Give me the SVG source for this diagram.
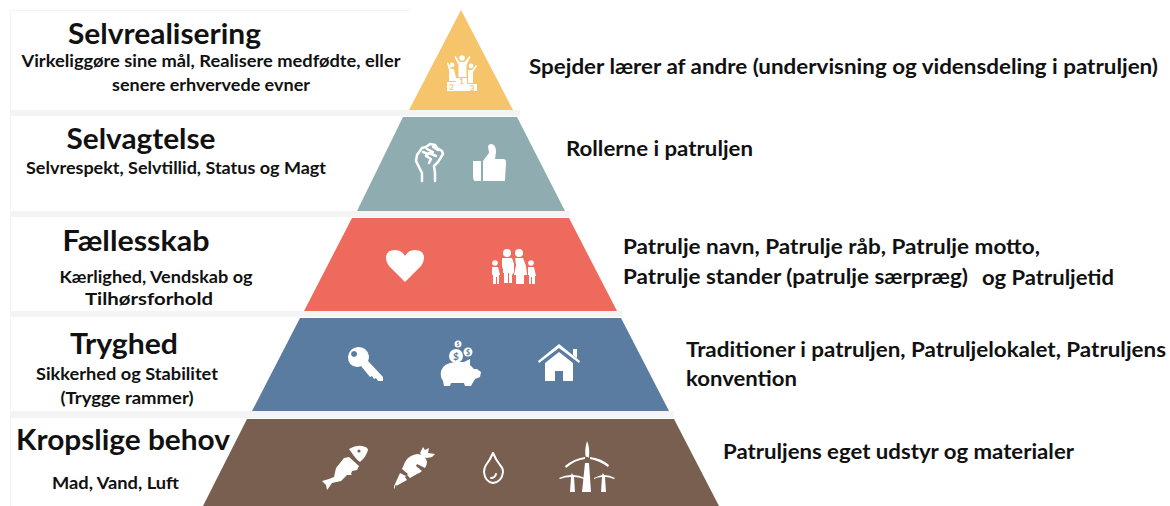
<svg xmlns="http://www.w3.org/2000/svg" width="1170" height="506" viewBox="0 0 1170 506">
<style>
text{font-family:"Lato","Liberation Sans",sans-serif;font-weight:700;fill:#111}
.h{font-size:29px;text-anchor:middle}
.s{font-size:17px;text-anchor:middle}
.r{font-size:20.500px}
.i{fill:#fff}
.l{fill:none;stroke:#fff;stroke-linecap:round;stroke-linejoin:round}
.strip{fill:#f4f4f4}
.num{font-size:8px;text-anchor:middle;fill:#f5c46b}
</style>
<rect width="1170" height="506" fill="#fff"/>
<g id="bands">
<rect class="strip" x="10" y="10" width="400" height="1"/>
<rect class="strip" x="10" y="110" width="510" height="6"/>
<rect class="strip" x="10" y="211" width="560" height="6"/>
<rect class="strip" x="10" y="311" width="612" height="6"/>
<rect class="strip" x="10" y="411" width="664" height="7"/>
<rect class="strip" x="10" y="10" width="1" height="496"/>
</g>
<g id="selvrealisering">
<polygon points="461,10 513,110 409,110" fill="#f5c46b"/>
<g class="i">
<rect x="456" y="78" width="11" height="13"/><rect x="447" y="82" width="9" height="9"/><rect x="467" y="84" width="10" height="7"/>
<circle cx="462" cy="58" r="2.800"/><path d="M459.500 62h5l5-6 1 1-4 8v12h-8V65l-4-8 1-1z"/>
<circle cx="452" cy="65" r="2.400"/><path d="M449 69h5l2 9v3h-7zM449 70l-2-7 1-1 3 7z"/>
<circle cx="471" cy="66" r="2.400"/><path d="M468 70h4l4-5 1 1-4 6v11h-5z"/>
</g>
<text class="num" x="461.500" y="84">1</text><text class="num" x="451.500" y="90">2</text><text class="num" x="472" y="91">3</text>
<text class="h" x="164.500" y="44" textLength="193" lengthAdjust="spacingAndGlyphs">Selvrealisering</text>
<text class="s" x="211" y="67" textLength="379" lengthAdjust="spacingAndGlyphs">Virkeliggøre sine mål, Realisere medfødte, eller</text>
<text class="s" x="211" y="91" textLength="198" lengthAdjust="spacingAndGlyphs">senere erhvervede evner</text>
<text class="r" x="529" y="74" textLength="629" lengthAdjust="spacingAndGlyphs">Spejder lærer af andre (undervisning og vidensdeling i patruljen)</text>
</g>
<g id="selvagtelse">
<polygon points="403,117 517,117 565,211 357,211" fill="#8fadb0"/>
<path class="l" stroke-width="2.500" d="M422 181v-8l-6-12 1-6 5-7 4-1 4-3 5 1 2 3 5 3 1 3-5 8-4 4 1 7v8M423 152l5 2M427 149l6 3M433 147l5 3M436 156l-7-3-3 3 5 3-2 4"/>
<path class="i" d="M473 161h8v20h-6q-2-1-2-4zM483 161l6-8-1-7q1-2 3-2 5 0 5 8l-1 7h8q3 0 3 3l-1 19h-22z"/>
<text class="h" x="141" y="149" textLength="149" lengthAdjust="spacingAndGlyphs">Selvagtelse</text>
<text class="s" x="176" y="174" textLength="300" lengthAdjust="spacingAndGlyphs">Selvrespekt, Selvtillid, Status og Magt</text>
<text class="r" x="566" y="156" textLength="187" lengthAdjust="spacingAndGlyphs">Rollerne i patruljen</text>
</g>
<g id="faellesskab">
<polygon points="352,218 569,218 617,311 304,311" fill="#ee6a5c"/>
<path class="i" d="M405 282l-16-16q-3-4-3-8 0-8 9-8 7 0 10 6 3-6 10-6 9 0 9 8 0 4-3 8z"/>
<g class="i">
<circle cx="507" cy="253" r="4"/><circle cx="519" cy="253" r="4"/><circle cx="495" cy="263" r="2.800"/><circle cx="531" cy="263" r="2.800"/>
<path d="M502 258h10l2 6v8l-1 2-1 1v8h-3v-10h-1v10h-4v-10l-1 0v-6l-1 2z"/>
<path d="M515 258h8l3 8 1 9h-3v9h-8v-9h-2l2-10z"/>
<path d="M492 267h6l2 8-1 0v9h-2v-7h-1v7h-3v-9h-1z"/>
<path d="M528 267h6l2 9-1 0v8h-3v-7h-1v7h-2v-9h-1z"/>
</g>
<text class="h" x="136" y="251" textLength="147" lengthAdjust="spacingAndGlyphs">Fællesskab</text>
<text class="s" x="156" y="283" textLength="193" lengthAdjust="spacingAndGlyphs">Kærlighed, Vendskab og</text>
<text class="s" x="149" y="305" textLength="128" lengthAdjust="spacingAndGlyphs">Tilhørsforhold</text>
<text class="r" x="623" y="254" textLength="417" lengthAdjust="spacingAndGlyphs">Patrulje navn, Patrulje råb, Patrulje motto,</text>
<text class="r" x="623" y="284" textLength="345" lengthAdjust="spacingAndGlyphs">Patrulje stander (patrulje særpræg)</text>
<text class="r" x="982" y="285" textLength="132" lengthAdjust="spacingAndGlyphs">og Patruljetid</text>
</g>
<g id="tryghed">
<polygon points="300,318 621,318 669,411 252,411" fill="#5a7ca1"/>
<path class="i" fill-rule="evenodd" d="M358 347q9 0 11 9 0 3-1 5l15 16v4h-5l-2-3-2 1-2-3-2 1-9-11q-2 1-4 1-9-1-9-10 1-9 10-10zM354 351a3 3 0 1 0 .1 0z"/>
<g class="i">
<path d="M441 371q2-8 15-9h8l6-3v6l4 4 3 0 4 3-1 5-5 2-3 5-1 2h-6l-1-3h-13l-1 3h-6l-1-5q-3-4-2-10z"/>
<circle cx="456" cy="356" r="7"/><circle cx="468" cy="352" r="4.500"/><circle cx="458" cy="344" r="3.500"/>
<path d="M559 344l21 17-1 2-20-15-20 15-1-2zM573 349h4v9l-4-3zM545 363l14-11 14 11v18h-10v-10h-8v10h-10z"/>
</g>
<text x="456" y="359.500" style="fill:#5a7ca1;font-size:10px;text-anchor:middle">$</text><text x="468" y="355" style="fill:#5a7ca1;font-size:7px;text-anchor:middle">$</text><text x="458" y="346" style="fill:#5a7ca1;font-size:5px;text-anchor:middle">$</text>
<text class="h" x="124" y="354" textLength="108" lengthAdjust="spacingAndGlyphs">Tryghed</text>
<text class="s" x="127" y="380" textLength="182" lengthAdjust="spacingAndGlyphs">Sikkerhed og Stabilitet</text>
<text class="s" x="127" y="404" textLength="133" lengthAdjust="spacingAndGlyphs">(Trygge rammer)</text>
<text class="r" x="686" y="357" textLength="480" lengthAdjust="spacingAndGlyphs">Traditioner i patruljen, Patruljelokalet, Patruljens</text>
<text class="r" x="686" y="386" textLength="111" lengthAdjust="spacingAndGlyphs">konvention</text>
</g>
<g id="kropslige-behov">
<polygon points="247,419 674,419 719,506 203,506" fill="#785f50"/>
<path class="i" d="M322 481l7-2 5-2 2-9 8-10 5-1 10 9-2 4-5 1-1 3 1 1-5 0-6 6-9 2-2 3-3 4-1-5-2-2z"/>
<path class="i" d="M349 449q7-4 13-3 6 1 6 4-2 7-8 12-3-2-6-6z"/>
<circle cx="359" cy="451" r="1.600" fill="#785f50"/>
<path class="i" d="M395 489q-2-2 0-5l5-11 6 3 2-2-6-5 3-7q4-7 12-8 8 0 10 8 0 3-2 6l-8-4-1 2 6 5q-2 2-5 3l-7 4-3-3-2 2 2 3-9 5q-2 1-3 0zM420 453l3-6 2 3 4-2-1 5 7 1-3 3-5 1-4-1z"/>
<path class="l" stroke-width="2" d="M493 453q-3 7-7 12-2 3-2 7 1 10 9 11 9-1 10-11 0-4-3-7-4-5-7-12zM491 478q4 0 5-4" />
<g class="i">
<path d="M587 441q3 6 2 16l-1 1h-2q-2-7 1-17zM585 459q-10 1-19 9l-1-2q8-7 20-9zM590 457q11 1 19 8l-1 2q-8-6-18-8zM585 463h4l2 29h-9z"/>
<circle cx="587" cy="458" r="1.200" fill="#785f50"/>
<path d="M559 478q6-3 12-3l1-2 1 2q6 0 12 3l-1 1q-6-2-10-2l1 15h-5l1-15q-6 0-11 2zM594 478q4-2 8-3l1-2 1 2q6 0 11 3l-1 1q-5-2-9-2l1 15h-5l1-15q-4 0-8 2z"/>
</g>
<text class="h" x="123" y="450" textLength="214" lengthAdjust="spacingAndGlyphs">Kropslige behov</text>
<text class="s" x="115.500" y="489" textLength="127" lengthAdjust="spacingAndGlyphs">Mad, Vand, Luft</text>
<text class="r" x="723" y="459" textLength="351" lengthAdjust="spacingAndGlyphs">Patruljens eget udstyr og materialer</text>
</g>
</svg>
